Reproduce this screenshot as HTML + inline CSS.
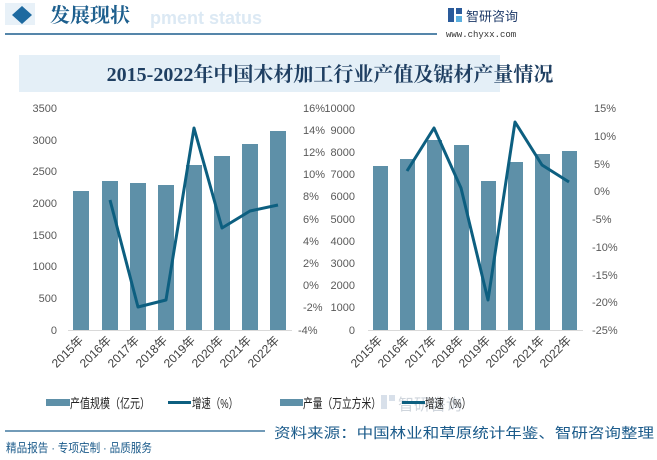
<!DOCTYPE html>
<html><head><meta charset="utf-8"><style>
body{margin:0;width:657px;height:455px;overflow:hidden;background:#fff;font-family:"Liberation Sans","Noto Sans CJK SC",sans-serif}
</style></head><body>
<svg width="657" height="455" xmlns="http://www.w3.org/2000/svg" font-family="'Liberation Sans','Noto Sans CJK SC',sans-serif">
<rect x="5" y="3" width="30" height="22" fill="#e8f1f8"/>
<polygon points="22,6 32,15 22,24 12,15" fill="#1e6aa0"/>
<text x="150" y="24" font-size="18" font-weight="bold" fill="#dce9f4">pment status</text>
<text x="50" y="22" font-size="20" font-weight="bold" fill="#1d5f8e" font-family="'Noto Serif CJK SC',serif">发展现状</text>
<line x1="5" y1="34" x2="437" y2="34" stroke="#1d5f8e" stroke-width="1.5"/>
<rect x="448" y="8" width="6" height="14" fill="#2a5a9a"/><rect x="456" y="8" width="6" height="6" fill="#2a5a9a"/><rect x="456" y="16" width="6" height="6" fill="#5aaede"/>
<text x="466" y="21" font-size="13" fill="#1f3b6a">智研咨询</text>
<text x="446" y="37" font-size="9" fill="#333" font-family="'Liberation Mono',monospace">www.chyxx.com</text>
<rect x="19" y="55" width="481" height="37" fill="#e4eff7"/>
<text x="330" y="81" font-size="20" font-weight="bold" fill="#1f3f62" text-anchor="middle" font-family="'Liberation Serif','Noto Serif CJK SC',serif">2015-2022年中国木材加工行业产值及锯材产量情况</text>

<g font-size="11" fill="#595959">
<line x1="68" y1="330.5" x2="292" y2="330.5" stroke="#d9d9d9"/>
<g text-anchor="end">
<text x="57" y="112">3500</text><text x="57" y="144">3000</text><text x="57" y="175">2500</text><text x="57" y="207">2000</text><text x="57" y="239">1500</text><text x="57" y="270">1000</text><text x="57" y="302">500</text><text x="57" y="334">0</text>
</g>
<g>
<text x="303" y="112">16%</text><text x="303" y="134">14%</text><text x="303" y="156">12%</text><text x="303" y="178">10%</text><text x="303" y="200">8%</text><text x="303" y="223">6%</text><text x="303" y="245">4%</text><text x="303" y="267">2%</text><text x="303" y="289">0%</text><text x="303" y="311">-2%</text><text x="298" y="334">-4%</text>
</g>
<g fill="#5e90a8">
<rect x="73" y="191" width="16" height="139"/><rect x="102" y="181" width="16" height="149"/><rect x="130" y="183" width="16" height="147"/><rect x="158" y="185" width="16" height="145"/><rect x="186" y="165" width="16" height="165"/><rect x="214" y="156" width="16" height="174"/><rect x="242" y="144" width="16" height="186"/><rect x="270" y="131" width="16" height="199"/>
</g>
<polyline points="110,200 138,307 166,300 194,128 222,228 250,211 278,205" fill="none" stroke="#0d5f80" stroke-width="3" stroke-linejoin="round"/>
<g text-anchor="end" fill="#404040" font-size="12">
<text transform="translate(84,341) rotate(-45)">2015年</text><text transform="translate(112,341) rotate(-45)">2016年</text><text transform="translate(140,341) rotate(-45)">2017年</text><text transform="translate(168,341) rotate(-45)">2018年</text><text transform="translate(196,341) rotate(-45)">2019年</text><text transform="translate(224,341) rotate(-45)">2020年</text><text transform="translate(252,341) rotate(-45)">2021年</text><text transform="translate(280,341) rotate(-45)">2022年</text>
</g>
<line x1="368" y1="330.5" x2="583" y2="330.5" stroke="#d9d9d9"/>
<g text-anchor="end">
<text x="355" y="112">10000</text><text x="355" y="134">9000</text><text x="355" y="156">8000</text><text x="355" y="178">7000</text><text x="355" y="200">6000</text><text x="355" y="223">5000</text><text x="355" y="245">4000</text><text x="355" y="267">3000</text><text x="355" y="289">2000</text><text x="355" y="311">1000</text><text x="355" y="334">0</text>
</g>
<g>
<text x="594" y="112">15%</text><text x="594" y="140">10%</text><text x="594" y="168">5%</text><text x="594" y="195">0%</text><text x="592" y="223">-5%</text><text x="592" y="251">-10%</text><text x="592" y="279">-15%</text><text x="592" y="306">-20%</text><text x="592" y="334">-25%</text>
</g>
<g fill="#5e90a8">
<rect x="373" y="166" width="15" height="164"/><rect x="400" y="159" width="15" height="171"/><rect x="427" y="140" width="15" height="190"/><rect x="454" y="145" width="15" height="185"/><rect x="481" y="181" width="15" height="149"/><rect x="508" y="162" width="15" height="168"/><rect x="535" y="154" width="15" height="176"/><rect x="562" y="151" width="15" height="179"/>
</g>
<polyline points="407,171 434,128 461,188 488,300 515,122 542,165 569,182" fill="none" stroke="#0d5f80" stroke-width="3" stroke-linejoin="round"/>
<g text-anchor="end" fill="#404040" font-size="12">
<text transform="translate(383,341) rotate(-45)">2015年</text><text transform="translate(410,341) rotate(-45)">2016年</text><text transform="translate(437,341) rotate(-45)">2017年</text><text transform="translate(464,341) rotate(-45)">2018年</text><text transform="translate(491,341) rotate(-45)">2019年</text><text transform="translate(518,341) rotate(-45)">2020年</text><text transform="translate(545,341) rotate(-45)">2021年</text><text transform="translate(572,341) rotate(-45)">2022年</text>
</g>
</g>
<g font-size="13" fill="#222">
<rect x="46" y="399" width="24" height="7" fill="#5e90a8"/><text x="70" y="408" textLength="80" lengthAdjust="spacingAndGlyphs">产值规模（亿元）</text>
<line x1="168" y1="402.5" x2="191" y2="402.5" stroke="#0d5f80" stroke-width="3"/><text x="192" y="408" textLength="46" lengthAdjust="spacingAndGlyphs">增速（%）</text>
<rect x="381" y="395" width="6" height="14" fill="#d8e0ea"/><rect x="389" y="395" width="6" height="6" fill="#d8e0ea"/>
<text x="398" y="410" font-size="16" fill="#cfd5dc">智研咨询</text>
<rect x="280" y="399" width="23" height="7" fill="#5e90a8"/><text x="303" y="408" textLength="78" lengthAdjust="spacingAndGlyphs">产量（万立方米）</text>
<line x1="402" y1="402.5" x2="425" y2="402.5" stroke="#0d5f80" stroke-width="3"/><text x="425" y="408" textLength="46" lengthAdjust="spacingAndGlyphs">增速（%）</text>
</g>
<line x1="5" y1="431" x2="265" y2="431" stroke="#1d5f8e" stroke-width="1.2"/>
<text x="274" y="438" font-size="14" fill="#1a5a8a" textLength="380" lengthAdjust="spacingAndGlyphs">资料来源：中国林业和草原统计年鉴、智研咨询整理</text>
<text x="6" y="452" font-size="12" fill="#1a5a8a" textLength="146" lengthAdjust="spacingAndGlyphs">精品报告 · 专项定制 · 品质服务</text>
</svg>
</body></html>
